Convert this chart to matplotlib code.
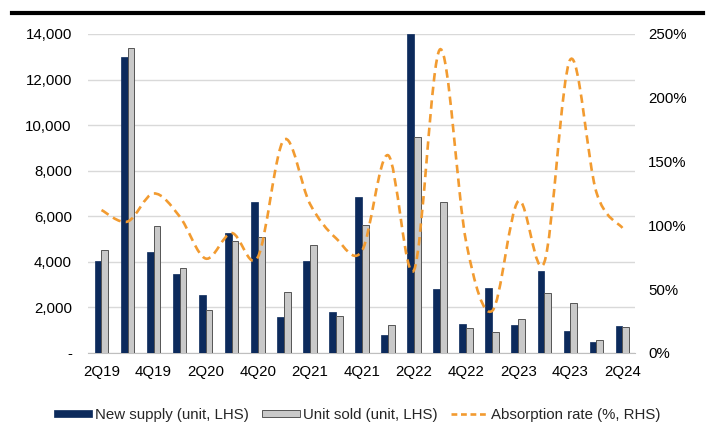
import numpy as np
import matplotlib
matplotlib.use("Agg")
import matplotlib.pyplot as plt
from matplotlib.path import Path
from matplotlib.patches import PathPatch
from matplotlib.lines import Line2D
from matplotlib.ticker import FuncFormatter, MultipleLocator

quarters = ['2Q19', '3Q19', '4Q19', '1Q20', '2Q20', '3Q20', '4Q20', '1Q21', '2Q21',
            '3Q21', '4Q21', '1Q22', '2Q22', '3Q22', '4Q22', '1Q23', '2Q23', '3Q23',
            '4Q23', '1Q24', '2Q24']
new_supply = [4050, 13000, 4450, 3480, 2530, 5280, 6640, 1580, 4050, 1800, 6830,
              790, 14000, 2790, 1270, 2870, 1230, 3610, 950, 470, 1180]
unit_sold = [4520, 13370, 5570, 3730, 1890, 4930, 5080, 2660, 4750, 1620, 5620,
             1230, 9490, 6640, 1110, 940, 1490, 2650, 2180, 590, 1140]
absorption = [112, 103, 125, 107, 74, 94, 75, 167, 117, 90, 80, 155, 65, 238, 87,
              33, 119, 71, 230, 126, 98]

NAVY = '#0C2A5C'
GREY = '#C9C9C9'
ORANGE = '#F29B30'
GRID = '#D9D9D9'

plt.rcParams['font.family'] = ['Liberation Sans', 'DejaVu Sans']
plt.rcParams['font.size'] = 10.8
plt.rcParams['text.color'] = '#262626'


def smooth_path(xs, ys):
    # Catmull-Rom style Bezier segments, like a spreadsheet "smoothed line"
    pts = np.column_stack([xs, ys]).astype(float)
    n = len(pts)
    verts = [pts[0]]
    codes = [Path.MOVETO]
    for i in range(n - 1):
        p0 = pts[max(i - 1, 0)]
        p1 = pts[i]
        p2 = pts[i + 1]
        p3 = pts[min(i + 2, n - 1)]
        c1 = p1 + (p2 - p0) / 6.0
        c2 = p2 - (p3 - p1) / 6.0
        verts += [c1, c2, p2]
        codes += [Path.CURVE4] * 3
    return Path(verts, codes)


fig = plt.figure(figsize=(7.1, 4.26), dpi=100)
ax = fig.add_axes([0.1246, 0.1714, 0.7704, 0.7488])

x = np.arange(len(quarters))
w = 0.26
ax.bar(x - w / 2, new_supply, width=w, color=NAVY, edgecolor=NAVY, linewidth=0.5,
       label='New supply (unit, LHS)', zorder=3)
ax.bar(x + w / 2, unit_sold, width=w, color=GREY, edgecolor='#555555', linewidth=0.7,
       label='Unit sold (unit, LHS)', zorder=3)

ax.set_xlim(-0.5, len(quarters) - 0.5)
ax.set_ylim(0, 14000)
ax.yaxis.set_major_locator(MultipleLocator(2000))
ax.yaxis.set_major_formatter(FuncFormatter(lambda v, p: '-' if v == 0 else f'{v:,.0f}'))
ax.set_xticks(x[::2])
ax.set_xticklabels(quarters[::2])
ax.grid(axis='y', color=GRID, linewidth=1.0, zorder=0)
ax.set_axisbelow(True)
for s in ['top', 'left', 'right']:
    ax.spines[s].set_visible(False)
ax.spines['bottom'].set_color('#BFBFBF')
ax.tick_params(axis='both', length=0)
ax.tick_params(axis='y', pad=12)
ax.tick_params(axis='x', pad=9)

ax2 = ax.twinx()
ax2.set_ylim(0, 250)
ax2.yaxis.set_major_locator(MultipleLocator(50))
ax2.yaxis.set_major_formatter(FuncFormatter(lambda v, p: f'{v:.0f}%'))
ax2.tick_params(axis='y', length=0, pad=9)
for s in ax2.spines.values():
    s.set_visible(False)

dash = (0, (3.2, 2.0))
ax2.add_patch(PathPatch(smooth_path(x, absorption), facecolor='none', edgecolor=ORANGE,
                        linewidth=1.9, linestyle=dash, capstyle='butt', zorder=4))

# heavy rule across the top
fig.add_artist(Line2D([0.017, 0.990], [0.9695, 0.9695], color='black', linewidth=3.0,
                      transform=fig.transFigure))

handles, labels = ax.get_legend_handles_labels()
handles.append(Line2D([], [], color=ORANGE, linewidth=1.9, linestyle=(0, (2.2, 1.4))))
labels.append('Absorption rate (%, RHS)')
fig.legend(handles, labels, loc='center', bbox_to_anchor=(0.5035, 0.026), ncol=3,
           frameon=False, handlelength=2.5, handleheight=0.4, handletextpad=0.2,
           columnspacing=0.9, borderaxespad=0)

fig.savefig('out.png', dpi=100)
